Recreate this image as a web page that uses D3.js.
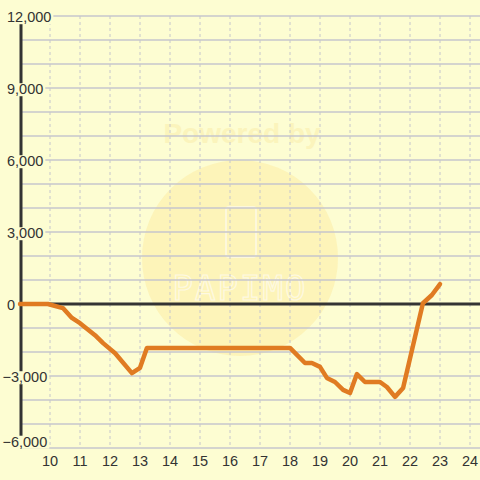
<!DOCTYPE html>
<html><head><meta charset="utf-8">
<script src="https://cdn.jsdelivr.net/npm/d3@7"></script>
<style>body{margin:0;background:#fdfdd2;}svg{display:block;}</style>
</head><body>
<script>
const hours = [9, 9.93, 10.43, 10.73, 11.0, 11.5, 11.77, 12.17, 12.73, 13.0, 13.23, 18.0, 18.5, 18.73, 19.0, 19.23, 19.5, 19.77, 20.0, 20.23, 20.5, 21.0, 21.23, 21.5, 21.77, 22.43, 22.73, 23.0];
const values = [0, 0, -170, -580, -800, -1300, -1630, -2050, -2880, -2660, -1830, -1830, -2460, -2460, -2620, -3080, -3250, -3580, -3710, -2920, -3250, -3250, -3460, -3870, -3500, 30, 375, 830];
const xTicks = [10, 11, 12, 13, 14, 15, 16, 17, 18, 19, 20, 21, 22, 23, 24];
const yTickLabels = [12000, 9000, 6000, 3000, 0, -3000, -6000];
const yGrid = d3.range(-6000, 12001, 1000);

const W = 480, H = 480;
const svg = d3.select("body").append("svg").attr("width", W).attr("height", H);
svg.append("rect").attr("width", W).attr("height", H).attr("fill", "#fdfdd2");

const x = d3.scaleLinear().domain([9, 24]).range([20, 470]);
const y = d3.scaleLinear().domain([-6000, 12000]).range([448, 16]);

// watermark
const wm = svg.append("g");
wm.append("circle").attr("cx", 240).attr("cy", 258).attr("r", 98).attr("fill", "#fdf3b6").attr("opacity", 0.9);
wm.append("text").attr("x", 242).attr("y", 143).attr("text-anchor", "middle")
  .attr("font-family", "Liberation Sans, Arial, sans-serif").attr("font-weight", "bold").attr("font-size", 28)
  .attr("fill", "#fbf4bc").text("Powered by");
wm.append("rect").attr("x", 226).attr("y", 207).attr("width", 30).attr("height", 50).attr("rx", 3)
  .attr("fill", "none").attr("stroke", "#fdf8dc").attr("stroke-width", 2);
wm.append("text").attr("x", 240).attr("y", 300).attr("text-anchor", "middle")
  .attr("font-family", "DejaVu Sans Mono, monospace").attr("font-size", 34).attr("letter-spacing", 2)
  .attr("fill", "none").attr("stroke", "#fdf9e2").attr("stroke-width", 1.2).text("PAPIMO");

// horizontal grid
svg.append("g").selectAll("line").data(yGrid).join("line")
  .attr("x1", 20).attr("x2", 480)
  .attr("y1", d => y(d)).attr("y2", d => y(d))
  .attr("stroke", "#c6c6cc").attr("stroke-width", 1.5);

// vertical dashed grid
svg.append("g").selectAll("line").data(xTicks).join("line")
  .attr("x1", d => x(d)).attr("x2", d => x(d))
  .attr("y1", y(12000)).attr("y2", y(-6000))
  .attr("stroke", "#c6c6cc").attr("stroke-width", 1).attr("stroke-dasharray", "3,3");

// y axis line
svg.append("line").attr("x1", 21).attr("x2", 21).attr("y1", y(12000)).attr("y2", y(-6000))
  .attr("stroke", "#333").attr("stroke-width", 3);

// zero line
svg.append("line").attr("x1", 20).attr("x2", 480).attr("y1", y(0)).attr("y2", y(0))
  .attr("stroke", "#333").attr("stroke-width", 3);

// data line
const line = d3.line().x((d, i) => x(hours[i])).y(d => y(d));
svg.append("path").datum(values).attr("d", line)
  .attr("fill", "none").attr("stroke", "#e07b22").attr("stroke-width", 4.5)
  .attr("stroke-linejoin", "round").attr("stroke-linecap", "round");

// y labels with background (kept inside the plot's vertical extent)
const fmt = d3.format(",");
const yl = svg.append("g").attr("font-family", "Liberation Sans, Arial, sans-serif").attr("font-size", 14.5).attr("fill", "#333");
yTickLabels.forEach(v => {
  const cy = Math.min(y(v) + 1, y(-6000) - 6.5);
  const t = yl.append("text").attr("x", v < 0 ? 2.5 : 7).attr("y", cy).attr("dy", "0.36em").text(fmt(v));
  const bb = t.node().getBBox();
  yl.insert("rect", "text").attr("x", bb.x - 1).attr("y", bb.y + 2).attr("width", bb.width + 3).attr("height", bb.height - 3)
    .attr("fill", "#fdfdd2");
});

// x labels
svg.append("g").attr("font-family", "Liberation Sans, Arial, sans-serif").attr("font-size", 14.5).attr("fill", "#333")
  .selectAll("text").data(xTicks).join("text")
  .attr("x", d => x(d)).attr("y", 466).attr("text-anchor", "middle").text(d => d);
</script>
</body></html>
